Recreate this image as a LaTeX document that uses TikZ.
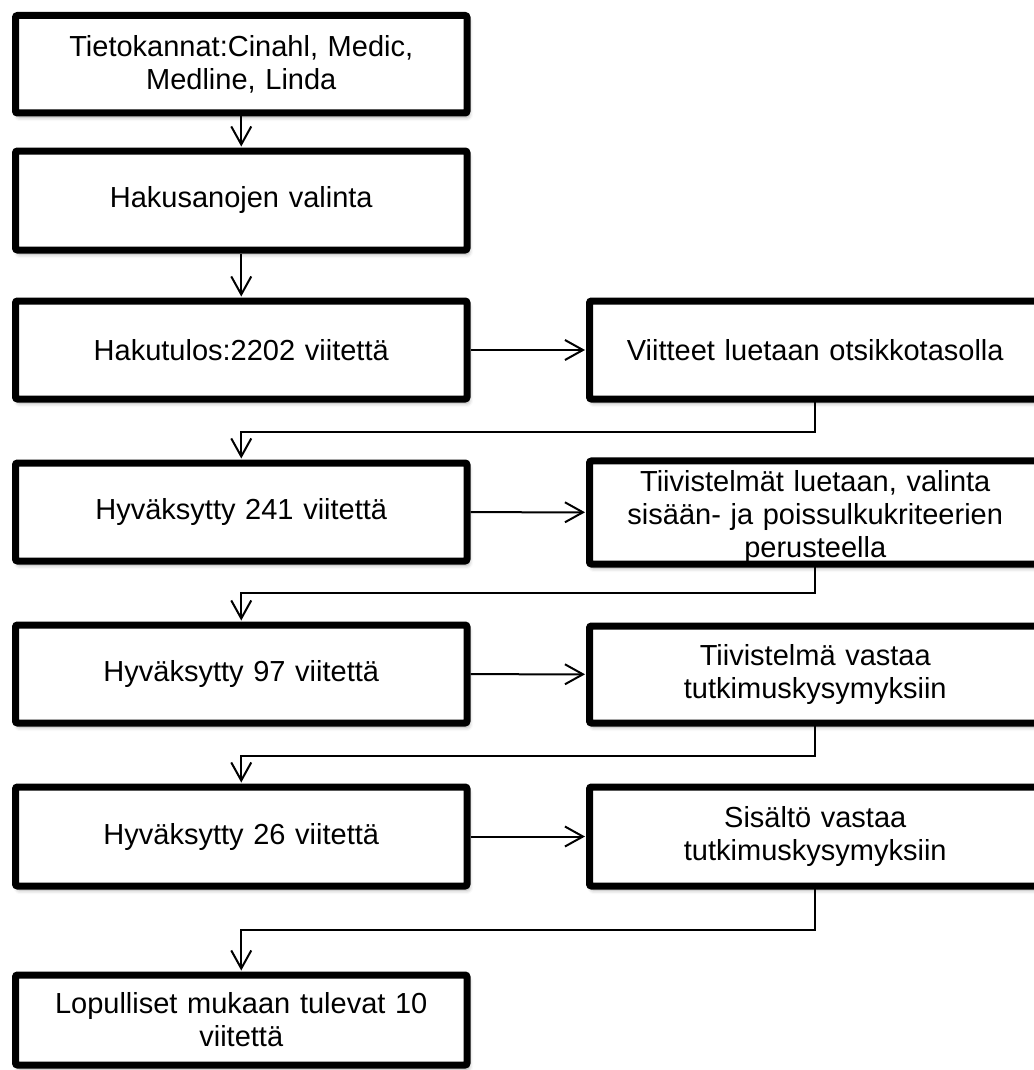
\documentclass[tikz,border=0pt]{standalone}
\usepackage{fontspec}
\setmainfont{Liberation Sans}
\usetikzlibrary{arrows.meta,shadows.blur}

\begin{document}
\begin{tikzpicture}[x=1pt, y=-1pt,
  box/.style={draw, fill=white, line width=7pt, rounded corners=2pt,
    minimum width=451.5pt, minimum height=98pt, text width=430pt,
    align=center, inner sep=0pt, font=\fontsize{29pt}{33pt}\selectfont,
    blur shadow={shadow xshift=2pt, shadow yshift=-4pt,
      shadow blur radius=4pt, shadow opacity=35}},
  wire/.style={line width=2pt, line cap=rect},
  link/.style={line width=2pt, -{Straight Barb[length=18pt, width=20pt]},
    shorten >=1pt}]
\useasboundingbox (0,0) rectangle (1033,1070);
\node [box, minimum height=97.5pt] (tieto) at (241.25,64.25) {Tietokannat:Cinahl, Medic,\\ Medline, Linda};
\node [box, minimum height=99pt] (haku) at (241.25,200.5) {Hakusanojen valinta};
\node [box] (tulos) at (241.25,350) {Hakutulos:2202 viitettä};
\node [box] (hyv241) at (241.25,512) {Hyväksytty 241 viitettä};
\node [box] (hyv97) at (241.25,674) {Hyväksytty 97 viitettä};
\node [box, minimum height=99pt] (hyv26) at (241.25,836.5) {Hyväksytty 26 viitettä};
\node [box, minimum height=90pt] (lopuksi) at (241.25,1020) {Lopulliset mukaan tulevat 10\\ viitettä};
\node [box] (otsikko) at (815.25,350) {Viitteet luetaan otsikkotasolla};
\node [box, minimum height=97pt, text height=31pt] (tiivis) at (815.25,512.5) {Tiivistelmät luetaan, valinta\\ sisään- ja poissulkukriteerien\\ perusteella};
\node [box, minimum height=97pt] (vastaa) at (815.25,674.5) {Tiivistelmä vastaa\\ tutkimuskysymyksiin};
\node [box, minimum height=99pt] (sisalto) at (815.25,836.5) {Sisältö vastaa\\ tutkimuskysymyksiin};
\coordinate (knee1) at (241.25,432);
\coordinate (knee2) at (241.25,593);
\coordinate (knee3) at (241.25,756);
\coordinate (knee4) at (241.25,930);
\draw [link] (tieto) -- (haku);
\draw [link] (haku) -- (tulos);
\draw [link] (tulos) -- (otsikko);
\draw [wire] (otsikko.south) |- (knee1);
\draw [link] (knee1) -- (hyv241.north);
\draw [link] (hyv241) -- (tiivis);
\draw [wire] (tiivis.south) |- (knee2);
\draw [link] (knee2) -- (hyv97.north);
\draw [link] (hyv97) -- (vastaa);
\draw [wire] (vastaa.south) |- (knee3);
\draw [link] (knee3) -- (hyv26.north);
\draw [link] (hyv26) -- (sisalto);
\draw [wire] (sisalto.south) |- (knee4);
\draw [link] (knee4) -- (lopuksi.north);
\end{tikzpicture}
\end{document}
